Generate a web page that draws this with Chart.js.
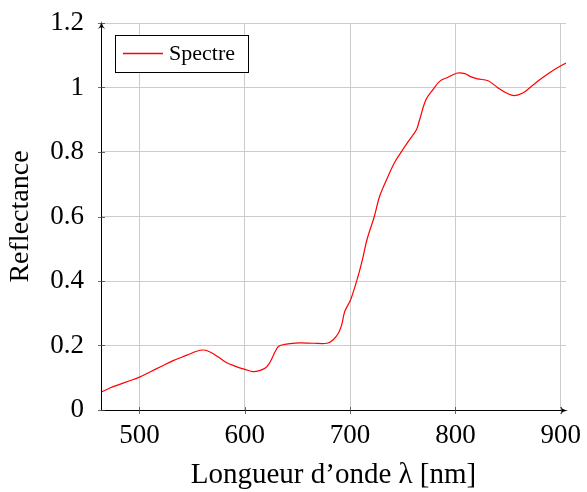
<!DOCTYPE html>
<html>
<head>
<meta charset="utf-8">
<script src="https://cdn.jsdelivr.net/npm/chart.js@4/dist/chart.umd.min.js"></script>
<style>
  html, body { margin: 0; padding: 0; background: #fff; }
  #wrap { width: 587px; height: 492px; }
</style>
</head>
<body>
<div id="wrap"><canvas id="c" width="587" height="492"></canvas></div>
<script>
// Data
const wavelength = [463.5, 472, 480, 490, 500, 510, 520, 532, 545, 555, 561, 567, 575, 582, 590, 601, 608, 614, 619.5, 623, 626, 629, 632, 637, 643, 652, 665, 678, 684, 689, 692, 695, 700.5, 707.5, 712, 716, 723, 728, 736, 742, 749, 756, 763, 766, 772, 779, 785, 793, 802, 809, 815, 821, 831, 836, 842, 849, 856, 864, 872, 880, 888, 896, 905];
const reflectance = [0.055, 0.068, 0.078, 0.090, 0.102, 0.118, 0.134, 0.153, 0.170, 0.183, 0.186, 0.180, 0.164, 0.148, 0.137, 0.125, 0.119, 0.122, 0.130, 0.143, 0.161, 0.182, 0.197, 0.203, 0.206, 0.208, 0.207, 0.207, 0.218, 0.239, 0.264, 0.306, 0.342, 0.414, 0.470, 0.528, 0.600, 0.662, 0.724, 0.766, 0.802, 0.836, 0.869, 0.900, 0.962, 0.995, 1.019, 1.032, 1.045, 1.043, 1.033, 1.027, 1.021, 1.010, 0.995, 0.982, 0.975, 0.983, 1.003, 1.024, 1.043, 1.060, 1.076];
const xTicks = [500, 600, 700, 800, 900];
const yTicks = [0, 0.2, 0.4, 0.6, 0.8, 1, 1.2];
const yTickLabels = ['0', '0.2', '0.4', '0.6', '0.8', '1', '1.2'];
const seriesName = 'Spectre';
const xTitle = 'Longueur d\u2019onde \u03bb [nm]';
const yTitle = 'Reflectance';

const LINE_COLOR = '#ff0000';
const points = wavelength.map((w, i) => ({ x: w, y: reflectance[i] }));
const SERIF = "'Liberation Serif', 'Times New Roman', serif";

function zeroPad(s) { s.paddingTop = 0; s.paddingBottom = 0; s.paddingLeft = 0; s.paddingRight = 0; }

const axesPlugin = {
  id: 'axesPlugin',
  afterDatasetsDraw(chart) {
    const ctx = chart.ctx;
    const a = chart.chartArea;
    const xs = chart.scales.x, ys = chart.scales.y;
    ctx.save();
    ctx.strokeStyle = '#000';
    ctx.fillStyle = '#000';
    ctx.lineWidth = 1;
    const ax = Math.round(a.left) + 0.5;
    const ay = Math.round(a.bottom) + 0.5;
    const ty = a.top - 2;
    const rx = a.right + 2;
    ctx.beginPath();
    ctx.moveTo(ax, ay);
    ctx.lineTo(ax, ty + 2);
    ctx.stroke();
    ctx.beginPath();
    ctx.moveTo(ax, ay);
    ctx.lineTo(rx - 2, ay);
    ctx.stroke();
    // arrowheads
    ctx.beginPath();
    ctx.moveTo(ax, ty);
    ctx.quadraticCurveTo(ax + 0.5, ty + 5, ax + 4, ty + 8);
    ctx.lineTo(ax, ty + 6);
    ctx.lineTo(ax - 4, ty + 8);
    ctx.quadraticCurveTo(ax - 0.5, ty + 5, ax, ty);
    ctx.fill();
    ctx.beginPath();
    ctx.moveTo(rx, ay);
    ctx.quadraticCurveTo(rx - 5, ay - 0.5, rx - 8, ay - 4);
    ctx.lineTo(rx - 6, ay);
    ctx.lineTo(rx - 8, ay + 4);
    ctx.quadraticCurveTo(rx - 5, ay + 0.5, rx, ay);
    ctx.fill();
    // tick marks crossing the axes
    ctx.strokeStyle = '#444';
    ctx.lineWidth = 0.8;
    xTicks.forEach(v => {
      const px = Math.round(xs.getPixelForValue(v)) + 0.5;
      ctx.beginPath();
      ctx.moveTo(px, ay - 3.5);
      ctx.lineTo(px, ay + 3.5);
      ctx.stroke();
    });
    yTicks.forEach(v => {
      const py = Math.round(ys.getPixelForValue(v)) + 0.5;
      ctx.beginPath();
      ctx.moveTo(ax - 3.5, py);
      ctx.lineTo(ax + 3.5, py);
      ctx.stroke();
    });
    ctx.restore();
  },
  afterDraw(chart) {
    const ctx = chart.ctx;
    const ds = chart.data.datasets[0];
    ctx.save();
    const bx = 115.5, by = 35.5, bw = 133, bh = 37;
    ctx.fillStyle = '#fff';
    ctx.fillRect(bx, by, bw, bh);
    ctx.strokeStyle = '#000';
    ctx.lineWidth = 1;
    ctx.strokeRect(bx, by, bw, bh);
    ctx.strokeStyle = LINE_COLOR;
    ctx.lineWidth = 1.3;
    ctx.beginPath();
    ctx.moveTo(123, 53.5);
    ctx.lineTo(163, 53.5);
    ctx.stroke();
    ctx.fillStyle = '#000';
    ctx.font = '22px ' + SERIF;
    ctx.textBaseline = 'middle';
    ctx.textAlign = 'left';
    ctx.fillText(ds.label, 169, 54);
    ctx.restore();
  }
};

new Chart(document.getElementById('c'), {
  type: 'line',
  data: {
    datasets: [{
      label: seriesName,
      data: points,
      borderColor: LINE_COLOR,
      borderWidth: 1.2,
      pointRadius: 0,
      fill: false,
      tension: 0.35
    }]
  },
  options: {
    responsive: false,
    animation: false,
    devicePixelRatio: 1,
    layout: { padding: { top: 23, right: 21, left: 0, bottom: 0 } },
    plugins: { legend: { display: false }, tooltip: { enabled: false } },
    scales: {
      x: {
        type: 'linear',
        min: 463.5,
        max: 905,
        afterBuildTicks: s => { s.ticks = xTicks.map(v => ({ value: v })); },
        afterFit: s => { s.height = 82; zeroPad(s); },
        grid: { color: '#cccccc', lineWidth: 1, drawTicks: false },
        border: { display: false },
        ticks: {
          autoSkip: false,
          maxRotation: 0,
          padding: 10,
          color: '#000',
          font: { family: SERIF, size: 27 },
          callback: v => String(v)
        },
        title: {
          display: true,
          text: xTitle,
          color: '#000',
          font: { family: SERIF, size: 29 },
          padding: { top: 0, bottom: -1 }
        }
      },
      y: {
        type: 'linear',
        min: 0,
        max: 1.2,
        afterBuildTicks: s => { s.ticks = yTicks.map(v => ({ value: v })); },
        afterFit: s => { s.width = 101; zeroPad(s); },
        grid: { color: '#cccccc', lineWidth: 1, drawTicks: false },
        border: { display: false },
        ticks: {
          autoSkip: false,
          padding: 17,
          color: '#000',
          font: { family: SERIF, size: 27 },
          callback: (v) => { const i = yTicks.findIndex(t => Math.abs(t - v) < 1e-9); return i >= 0 ? yTickLabels[i] : ''; }
        },
        title: {
          display: true,
          text: yTitle,
          color: '#000',
          font: { family: SERIF, size: 28 },
          padding: { top: 4, bottom: 0 }
        }
      }
    }
  },
  plugins: [axesPlugin]
});
</script>
</body>
</html>
